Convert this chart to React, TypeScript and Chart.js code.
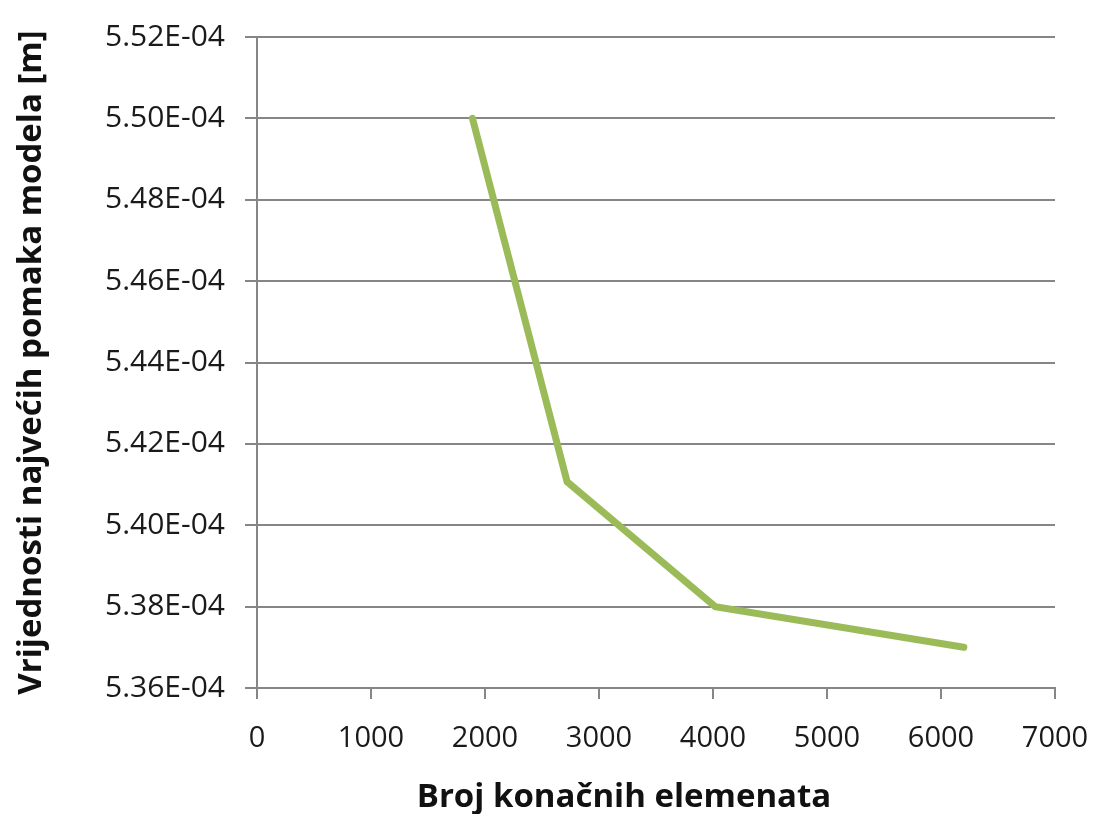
import React, { useEffect, useRef } from "react";
import { Chart, registerables } from "chart.js";

Chart.register(...registerables);

const X_VALUES = [1890, 2720, 4020, 6200];
const Y_VALUES = [5.5e-4, 5.4107e-4, 5.38e-4, 5.37e-4];
const X_TICKS = [0, 1000, 2000, 3000, 4000, 5000, 6000, 7000];
const Y_TICKS = [5.36e-4, 5.38e-4, 5.4e-4, 5.42e-4, 5.44e-4, 5.46e-4, 5.48e-4, 5.5e-4, 5.52e-4];
const X_TITLE = "Broj konačnih elemenata";
const Y_TITLE = "Vrijednosti najvećih pomaka modela [m]";

const fmtExp = (v: number) => {
  const [m, e] = v.toExponential(2).split("e");
  const neg = e[0] === "-";
  const digits = e.replace(/^[+-]/, "").padStart(2, "0");
  return `${m}E${neg ? "-" : "+"}${digits}`;
};

const FONT = "'Open Sans', 'DejaVu Sans', sans-serif";
const GRID = "#868686";

export default function App() {
  const ref = useRef<HTMLCanvasElement | null>(null);

  useEffect(() => {
    if (!ref.current) return;
    const xTitlePlugin = {
      id: "xTitle",
      afterDraw(chart: any) {
        const ctx = chart.ctx;
        ctx.save();
        ctx.font = `bold 33px ${FONT}`;
        ctx.fillStyle = "#111";
        ctx.textAlign = "center";
        ctx.textBaseline = "middle";
        ctx.fillText(X_TITLE, 624, 798);
        ctx.restore();
      },
    };
    const chart = new Chart(ref.current, {
      type: "line",
      data: {
        datasets: [
          {
            data: X_VALUES.map((x, i) => ({ x, y: Y_VALUES[i] })),
            borderColor: "#9BBB59",
            borderWidth: 7,
            borderCapStyle: "round",
            borderJoinStyle: "miter",
            pointRadius: 0,
            tension: 0,
            fill: false,
          },
        ],
      },
      options: {
        responsive: false,
        animation: false,
        events: [],
        layout: { padding: { left: 0, top: 37, right: 39, bottom: 0 } },
        plugins: { legend: { display: false }, tooltip: { enabled: false } },
        scales: {
          x: {
            type: "linear",
            min: 0,
            max: 7000,
            afterBuildTicks: (s: any) => {
              s.ticks = X_TICKS.map((v) => ({ value: v }));
            },
            afterFit: (s: any) => {
              s.height = 126;
              s.paddingLeft = 0;
              s.paddingRight = 0;
            },
            ticks: {
              font: { family: FONT, size: 29 },
              color: "#1a1a1a",
              padding: 22,
              maxRotation: 0,
              autoSkip: false,
              callback: (v: any) => String(v),
            },
            grid: {
              drawOnChartArea: false,
              drawTicks: true,
              tickLength: 11,
              color: GRID,
              lineWidth: 2,
            },
            border: { display: true, color: GRID, width: 2 },
          },
          y: {
            type: "linear",
            min: 5.36e-4,
            max: 5.52e-4,
            afterBuildTicks: (s: any) => {
              s.ticks = Y_TICKS.map((v) => ({ value: v }));
            },
            afterFit: (s: any) => {
              s.width = 257;
              s.paddingTop = 0;
              s.paddingBottom = 0;
            },
            ticks: {
              font: { family: FONT, size: 30 },
              color: "#1a1a1a",
              padding: 20,
              autoSkip: false,
              callback: (v: any) => fmtExp(Number(v)),
            },
            grid: {
              drawOnChartArea: true,
              drawTicks: true,
              tickLength: 12,
              color: GRID,
              lineWidth: 2,
            },
            border: { display: true, color: GRID, width: 2 },
            title: {
              display: true,
              text: Y_TITLE,
              font: { family: FONT, size: 33, weight: "bold" },
              color: "#111",
              padding: { top: 12, bottom: 0 },
            },
          },
        },
      },
      plugins: [xTitlePlugin],
    } as any);
    return () => chart.destroy();
  }, []);

  return (
    <div style={{ position: "absolute", left: 0, top: 0, width: 1094, height: 814, background: "#fff" }}>
      <canvas ref={ref} width={1094} height={814} style={{ width: 1094, height: 814, display: "block" }} />
    </div>
  );
}
